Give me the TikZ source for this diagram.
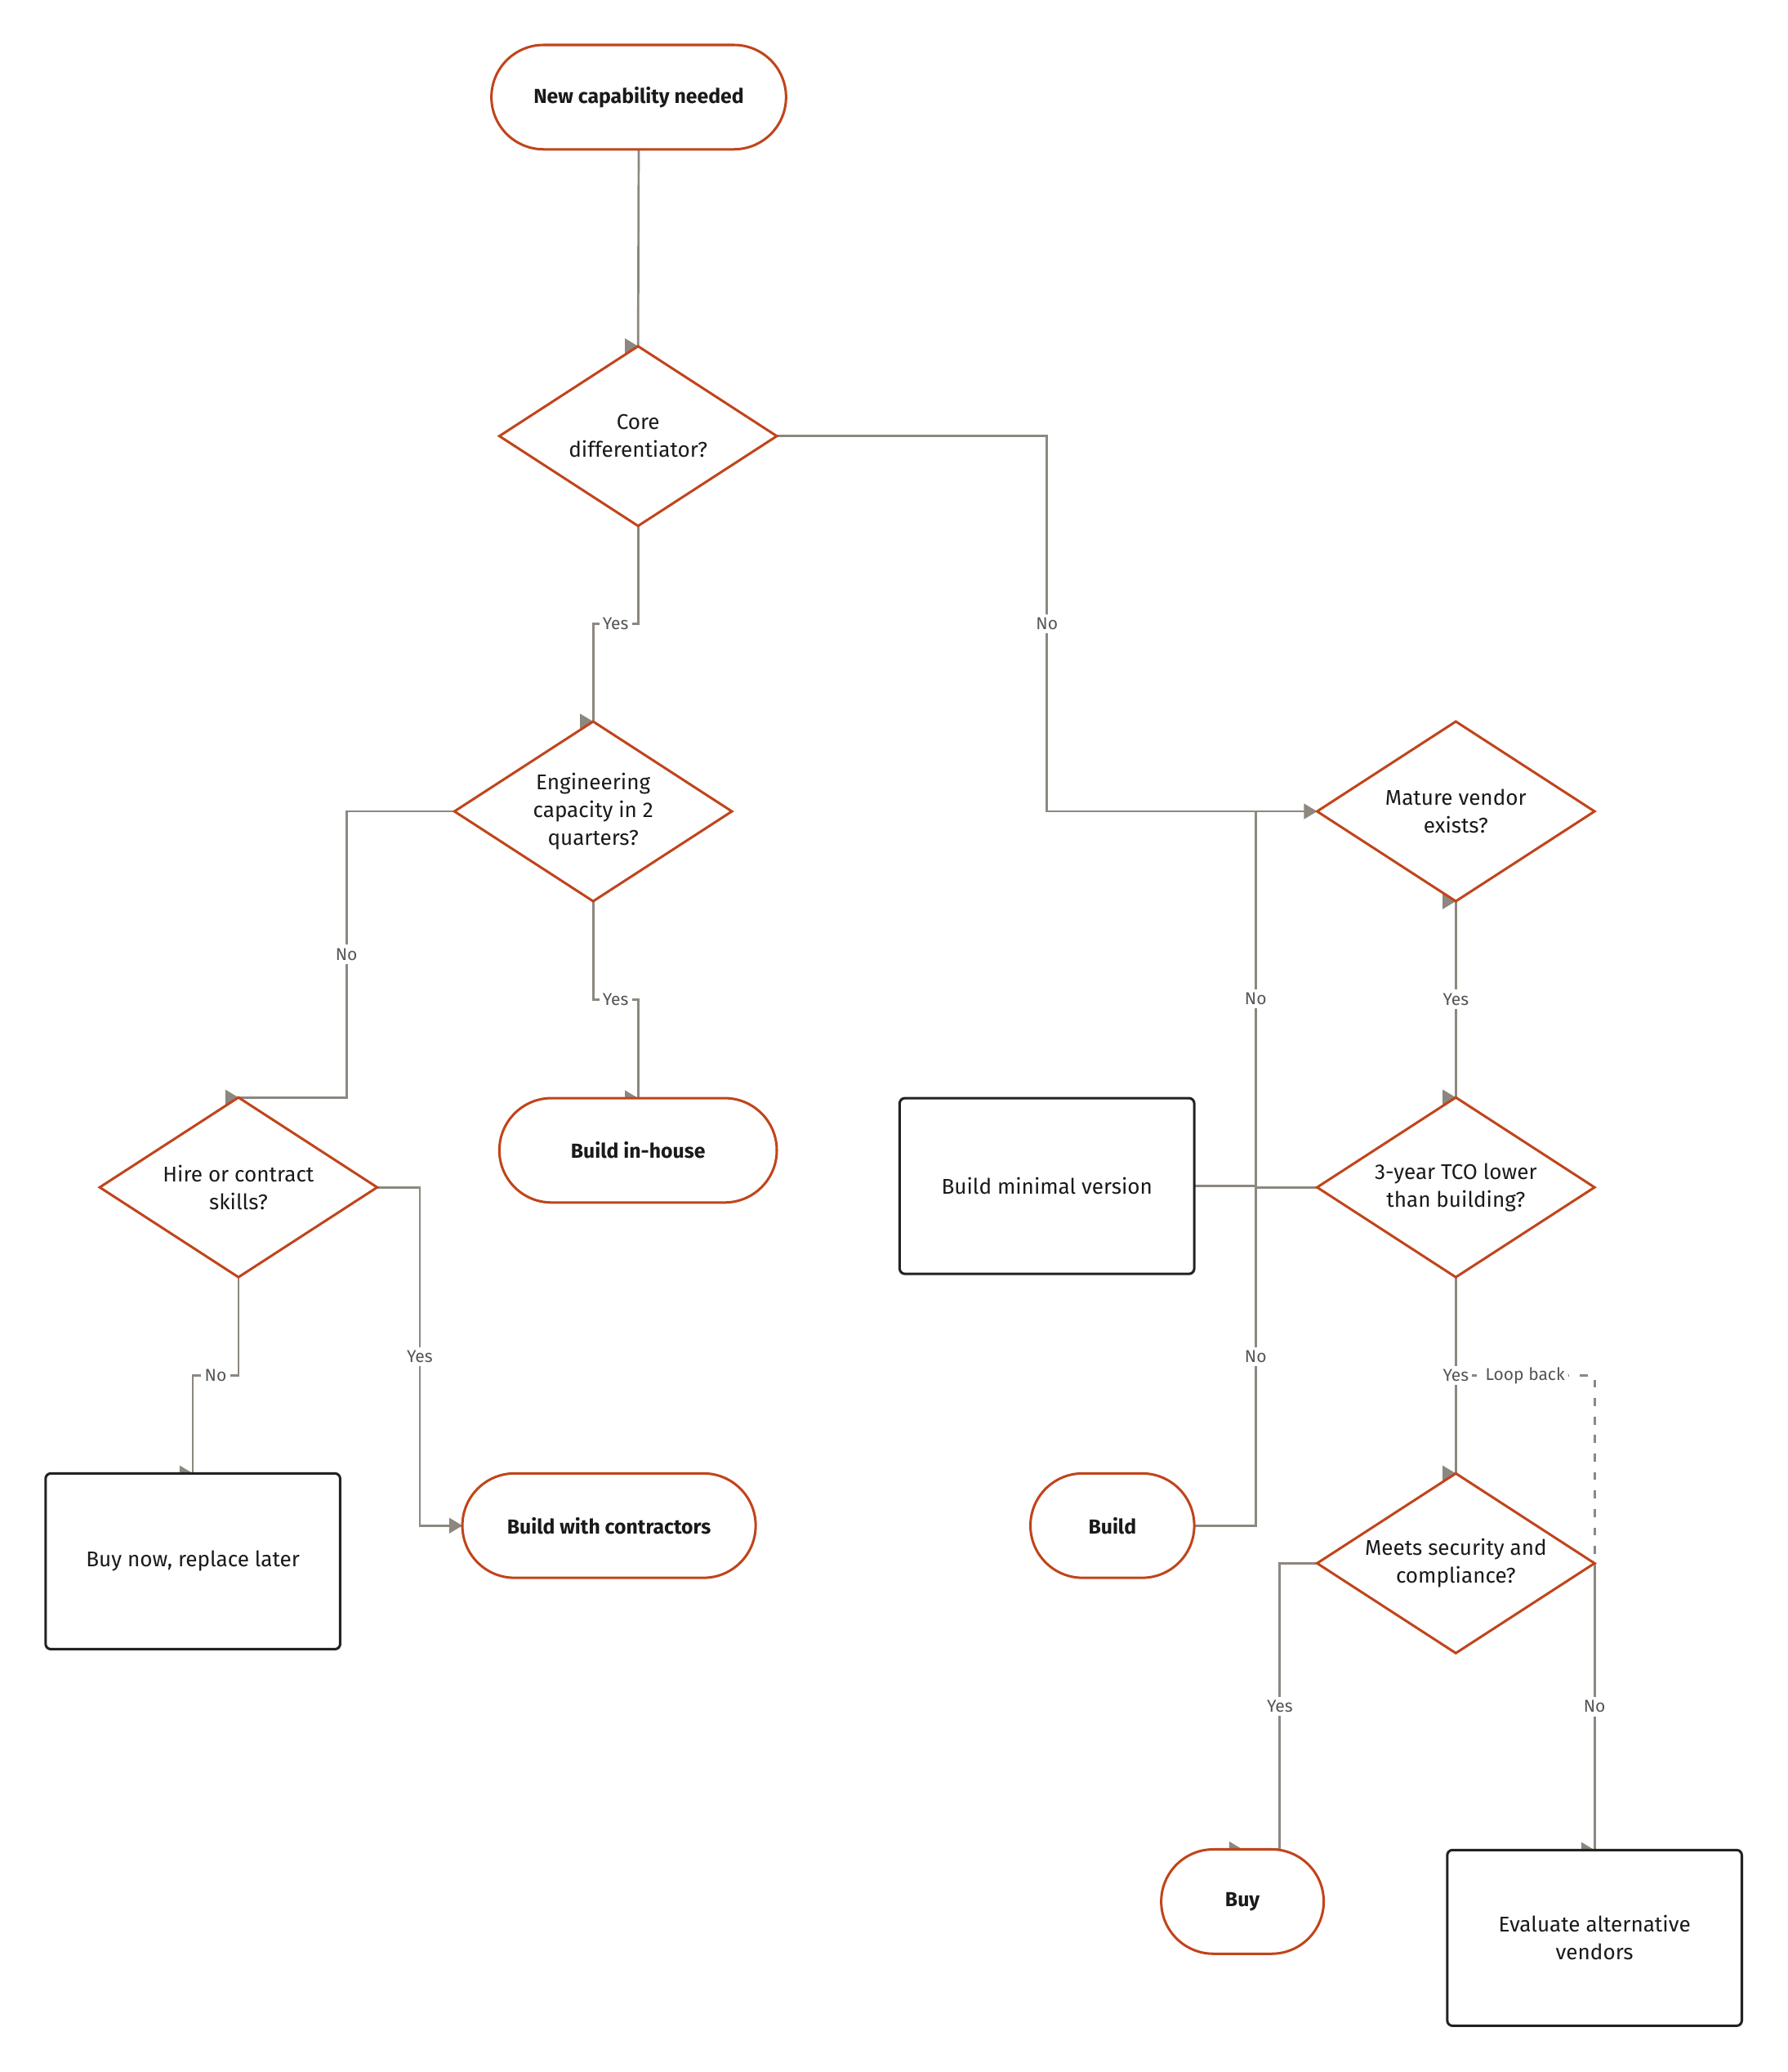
\documentclass[tikz,border=0pt]{standalone}
\usepackage{fontspec}
\setmainfont{Fira Sans}
\usetikzlibrary{shapes.geometric,backgrounds,calc}

\tikzset{
  terminal/.style={rectangle, rounded corners=29.6pt, draw={rgb, 255:red, 192; green, 69; blue, 27 }, line width=1.4pt, fill=white, minimum height=59.25pt, outer sep=0pt, text={rgb, 255:red, 26; green, 26; blue, 26 }, font=\bfseries\fontsize{11.5}{15.3}\selectfont},
  decision/.style={diamond, aspect=1.54, draw={rgb, 255:red, 192; green, 69; blue, 27 }, line width=1.4pt, fill=white, minimum width=157.5pt, minimum height=102pt, inner sep=0pt, outer sep=0pt, align=center, text={rgb, 255:red, 26; green, 26; blue, 26 }, font=\fontsize{12.1}{15.8}\selectfont},
  process/.style={rectangle, rounded corners=3pt, draw={rgb, 255:red, 34; green, 34; blue, 34 }, line width=1.4pt, fill=white, minimum width=167.25pt, minimum height=99.75pt, outer sep=0pt, align=center, text={rgb, 255:red, 26; green, 26; blue, 26 }, font=\fontsize{12.1}{15.8}\selectfont},
  flow/.style={draw={rgb, 255:red, 140; green, 136; blue, 128 }, line width=1.25pt},
  loopline/.style={dash pattern={on 4.5pt off 6pt}},
  headfill/.style={fill={rgb, 255:red, 140; green, 136; blue, 128 }},
  lbl/.style={fill=white, inner sep=2pt, text={rgb, 255:red, 85; green, 85; blue, 85 }, font=\fontsize{9.75}{11}\selectfont},
}
\newcommand{\headat}[1]{\path[headfill] (#1) -- ++(-10,-6) -- ++(0,12) -- cycle;}

\begin{document}
\begin{tikzpicture}[x=0.75pt,y=0.75pt,yscale=-1,xscale=1]
\useasboundingbox (0,0) rectangle (1353,1568);

% Terminal Nodes
\node[terminal, minimum width=167.25pt] (start) at (483.5,73.5) {New capability needed};
\node[terminal, minimum width=157.5pt] (inhouse) at (483,870.5) {Build in-house};
\node[terminal, minimum width=166.5pt] (contract) at (461,1154.5) {Build with contractors};
\node[terminal, minimum width=93pt] (build) at (842,1154.5) {Build};
\node[terminal, minimum width=92.25pt] (buy) at (940.5,1439) {Buy};

% Decision Nodes
\node[decision] (core) at (483,330) {Core\\differentiator?};
\node[decision] (eng) at (449,614) {Engineering\\capacity in 2\\quarters?};
\node[decision] (mature) at (1102,614) {Mature vendor\\exists?};
\node[decision] (hire) at (180.5,898.5) {Hire or contract\\skills?};
\node[decision] (tco) at (1102,898.5) {3-year TCO lower\\than building?};
\node[decision] (secure) at (1102,1183) {Meets security and\\compliance?};

% Process Nodes
\node[process] (minimal) at (792.5,897.5) {Build minimal version};
\node[process] (buynow) at (146,1181.5) {Buy now, replace later};
\node[process] (evaluate) at (1207,1466.5) {Evaluate alternative\\vendors};

\begin{pgfonlayer}{background}
%Loop back
\draw[flow, loopline] (evaluate.north) |- ($(evaluate.north)!.5!(mature.south)$) node[lbl] {Loop back} -| (mature.south);

%Straight Lines
\draw[flow] (start.south) -- (core.north);
\draw[flow] (core.south) |- ($(core.south)!.5!(eng.north)$) node[lbl] {Yes} -| (eng.north);
\draw[flow] (core.east) -| ($(core.east)!.5!(mature.west)$) node[lbl] {No} |- (mature.west);
\draw[flow] (eng.west) -| ($(eng.west)!.5!(hire.north)$) node[lbl] {No} |- (hire.north);
\draw[flow] (eng.south) |- ($(eng.south)!.5!(inhouse.north)$) node[lbl] {Yes} -| (inhouse.north);
\draw[flow] (hire.south) |- ($(hire.south)!.5!(buynow.north)$) node[lbl] {No} -| (buynow.north);
\draw[flow] (hire.east) -| ($(hire.east)!.5!(contract.west)$) node[lbl] {Yes} |- (contract.west);
\draw[flow] (mature.south) -- node[lbl] {Yes} (tco.north);
\draw[flow] (mature.west) -| ($(mature.west)!.5!(minimal.east)$) node[lbl] {No} |- (minimal.east);
\draw[flow] (tco.west) -| ($(tco.west)!.5!(build.east)$) node[lbl] {No} |- (build.east);
\draw[flow] (tco.south) -- node[lbl] {Yes} (secure.north);
\draw[flow] (secure.west) -| ($(secure.west)!.5!(buy.north)$) node[lbl] {Yes} |- (buy.north);
\draw[flow] (secure.east) -- node[lbl] {No} (evaluate.north);

%Arrow heads
\headat{core.north}
\headat{eng.north}
\headat{mature.west}
\headat{mature.south}
\headat{hire.north}
\headat{inhouse.north}
\headat{tco.north}
\headat{buynow.north}
\headat{contract.west}
\headat{secure.north}
\headat{buy.north}
\headat{evaluate.north}
\end{pgfonlayer}

\end{tikzpicture}
\end{document}
